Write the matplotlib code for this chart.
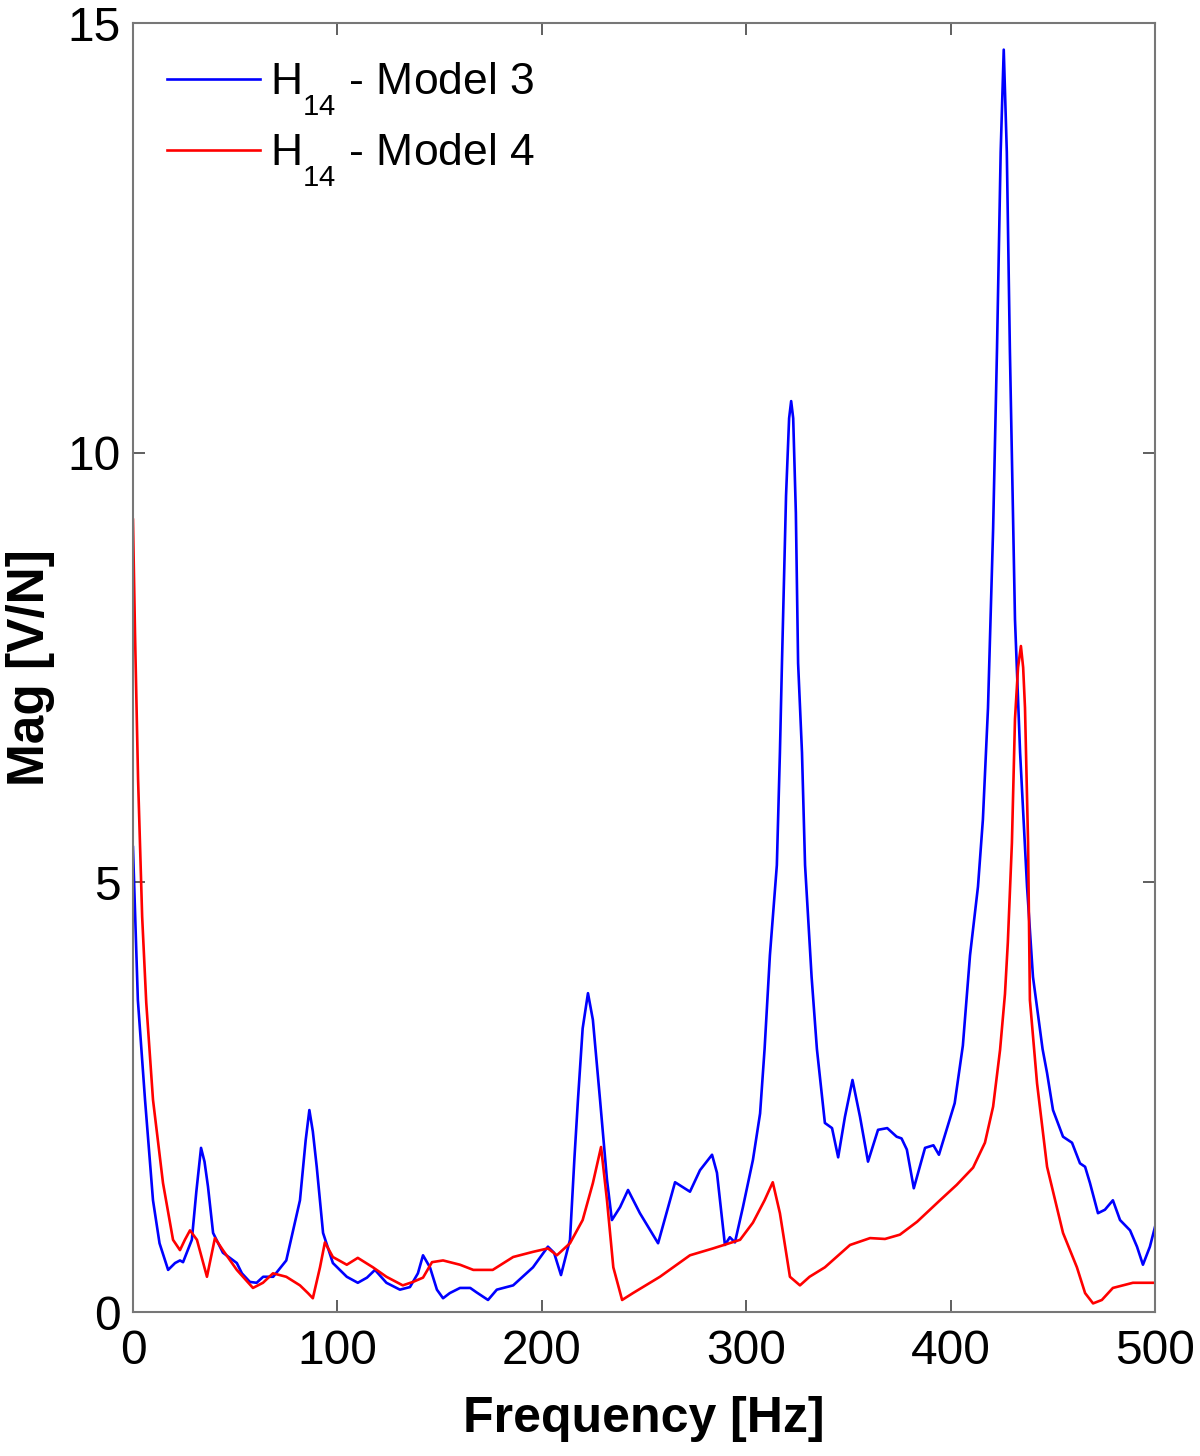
import matplotlib
matplotlib.use("Agg")
import matplotlib.pyplot as plt

plt.rcParams['font.family'] = ['Liberation Sans', 'DejaVu Sans']
plt.rcParams['mathtext.fontset'] = 'custom'
plt.rcParams['mathtext.rm'] = 'Liberation Sans'
plt.rcParams['mathtext.it'] = 'Liberation Sans'

# deeper, smaller subscript like the reference legend
try:
    import matplotlib._mathtext as _mt
    _mt.FontConstantsBase.sub1 = 0.9
    _mt.SHRINK_FACTOR = 0.66
except Exception:
    pass

# Model 3 (blue)
freq_m3 = [0, 2.4, 3.4, 5.9, 9.8, 13, 17.2, 20.6, 23, 24.5, 28.8, 31, 33.3, 35, 36.7, 39.2,
           44, 50.8, 53.3, 57.2, 60.5, 63.7, 68.6, 75, 81.7, 84.5, 86.3, 88, 89.9, 93,
           97.8, 104.6, 110, 114.5, 118.4, 124, 130.6, 135.5, 139.4, 141.9, 145.3, 148.7,
           151.7, 155, 160, 165, 168, 173.7, 178, 186, 195.7, 203, 206, 209.4, 213.8, 216,
           217.7, 220, 222.6, 225, 228.5, 231.9, 234.3, 238.3, 242.2, 248, 256.9, 261.8,
           265.2, 272.5, 277.4, 283.3, 285.7, 289.6, 292, 294.5, 298.4, 303.3, 306.8, 309,
           311.6, 315, 316.5, 317.5, 319.5, 321, 322, 323, 324.3, 325.4, 327.3, 328.8, 332,
           334.6, 338.5, 342, 345, 348.3, 352, 355.7, 359.6, 364.5, 369, 373.6, 376, 378.6,
           382, 387.5, 391.6, 394.3, 398, 402, 406, 409.5, 413.4, 415.8, 418.3, 420.8, 422.7,
           424.5, 426, 427.5, 429, 431.5, 434, 437.4, 440.3, 445, 447.2, 450.1, 455, 459.4,
           463.3, 465.8, 468.2, 472.1, 475.5, 479.4, 482.9, 487.8, 491.2, 494.1, 497.5, 500]
mag_m3 = [5.41, 3.63, 3.3, 2.47, 1.30, 0.8, 0.49, 0.57, 0.60, 0.58, 0.84, 1.4, 1.91, 1.75, 1.46, 0.92,
          0.69, 0.57, 0.45, 0.35, 0.34, 0.41, 0.41, 0.60, 1.30, 2.0, 2.35, 2.1, 1.69, 0.92,
          0.57, 0.41, 0.34, 0.40, 0.49, 0.34, 0.26, 0.29, 0.45, 0.66, 0.52, 0.26,
          0.16, 0.22, 0.28, 0.28, 0.23, 0.14, 0.26, 0.31, 0.52, 0.76, 0.69, 0.43, 0.84, 1.8,
          2.47, 3.3, 3.71, 3.4, 2.47, 1.54, 1.07, 1.22, 1.42, 1.15, 0.80, 1.22,
          1.51, 1.40, 1.65, 1.83, 1.62, 0.78, 0.87, 0.81, 1.22, 1.77, 2.31, 3.06,
          4.15, 5.20, 6.51, 7.55, 9.5, 10.4, 10.6, 10.4, 9.3, 7.55, 6.51, 5.20, 3.90,
          3.06, 2.20, 2.14, 1.80, 2.27, 2.70, 2.27, 1.75, 2.12, 2.14, 2.04, 2.02, 1.89,
          1.44, 1.91, 1.94, 1.83, 2.12, 2.43, 3.10, 4.15, 4.95, 5.73, 7.03, 9.11, 11.2,
          13.5, 14.69, 13.5, 11.2, 8.06, 6.51, 4.95, 3.9, 3.06, 2.78, 2.35, 2.04, 1.97,
          1.73, 1.69, 1.50, 1.15, 1.19, 1.30, 1.07, 0.95, 0.76, 0.55, 0.76, 0.99]

# Model 4 (red)
freq_m4 = [0, 1, 2.5, 4.5, 6.5, 9.8, 14.7, 19.6, 23, 25.4, 27.9, 31.3, 36.2, 40.1, 44, 50.8,
           58.7, 63.6, 68.5, 75, 81.7, 85.6, 88, 91.5, 93.9, 97.8, 104.6, 110, 117.4, 124,
           132, 137, 141.9, 146.3, 151.7, 160, 166.5, 176, 186, 195.7, 203, 207.4, 213.8,
           220, 225, 229, 231.9, 235, 239.3, 244.6, 257.8, 272.5, 283.8, 297, 303.3, 309,
           313, 316.5, 321.4, 326.3, 331, 338.5, 350.8, 360.6, 367.9, 375.2, 383.6, 394.8,
           403, 411, 416.8, 420.8, 424.2, 426.6, 428, 430, 431.5, 433, 434.4, 435.5, 436.4,
           437.9, 438.8, 442.3, 447.2, 455, 461.8, 465.8, 469.7, 474, 479.4, 489.2, 500]
mag_m4 = [9.22, 7.9, 6.2, 4.6, 3.6, 2.47, 1.5, 0.84, 0.72, 0.84, 0.95, 0.84, 0.41, 0.86, 0.72, 0.49,
          0.28, 0.34, 0.45, 0.41, 0.31, 0.22, 0.16, 0.52, 0.81, 0.64, 0.55, 0.63, 0.52, 0.41,
          0.31, 0.35, 0.40, 0.58, 0.60, 0.55, 0.49, 0.49, 0.64, 0.70, 0.74, 0.66, 0.80,
          1.07, 1.50, 1.92, 1.30, 0.52, 0.14, 0.22, 0.41, 0.66, 0.74, 0.84, 1.04, 1.30,
          1.51, 1.15, 0.41, 0.31, 0.41, 0.52, 0.78, 0.86, 0.85, 0.90, 1.05, 1.30,
          1.48, 1.68, 1.97, 2.39, 3.05, 3.7, 4.3, 5.46, 6.9, 7.5, 7.75, 7.5, 7.03,
          5.46, 3.63, 2.66, 1.69, 0.92, 0.52, 0.22, 0.10, 0.14, 0.28, 0.34, 0.34]

labels = [r'H$_{14}$ - Model 3', r'H$_{14}$ - Model 4']
x_ticks = [0, 100, 200, 300, 400, 500]
y_ticks = [0, 5, 10, 15]

fig = plt.figure(figsize=(12, 14.56), dpi=100)
ax = fig.add_axes([0.1108, 0.0989, 0.8517, 0.8853])
ax.plot(freq_m3, mag_m3, color='#0000ff', lw=1.9, label=labels[0])
ax.plot(freq_m4, mag_m4, color='#ff0000', lw=1.9, label=labels[1])

ax.set_xlim(0, 500)
ax.set_ylim(0, 15)
ax.set_xticks(x_ticks)
ax.set_yticks(y_ticks)
ax.tick_params(direction='in', length=8.5, width=1.2, top=True, right=True,
               labelsize=34.5, colors='#444444', labelcolor='black')
ax.tick_params(axis='x', pad=12)
ax.tick_params(axis='y', pad=9)
for s in ax.spines.values():
    s.set_color('#777777')
    s.set_linewidth(1.5)

ax.set_xlabel('Frequency [Hz]', fontsize=36, fontweight='bold', labelpad=16)
ax.set_ylabel('Mag [V/N]', fontsize=37, fontweight='bold')
ax.yaxis.set_label_coords(-0.076, 0.5)

leg = ax.legend(loc='upper left', frameon=False, fontsize=32, handlelength=2.1,
                handletextpad=0.22, labelspacing=0.3, borderpad=0, borderaxespad=0,
                bbox_to_anchor=(0.0333, 0.971))

fig.savefig('out.png', dpi=100)
